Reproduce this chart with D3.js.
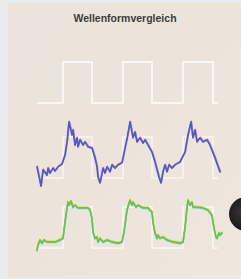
<!DOCTYPE html>
<html><head><meta charset="utf-8">
<script src="https://cdn.jsdelivr.net/npm/d3@7"></script>
<style>html,body{margin:0;padding:0;background:#e9ebec;overflow:hidden}</style>
</head><body>
<script>
// ---- data ----
const title = "Wellenformvergleich";
// reference square wave: [time, level]
const squareT = [0, 26, 26, 55, 55, 86, 86, 115, 115, 146, 146, 176, 176, 181];
const squareV = [0, 0, 1, 1, 0, 0, 1, 1, 0, 0, 1, 1, 0, 0];
// blue (distorted) output
const blueT = [0,4,6,10,11,13,16,18,21,25,28,30,32,35,36,38,40,41,43,46,48,51,55,58,60,61,63,65,66,68,70,73,75,78,81,85,88,90,93,96,98,100,103,106,108,111,115,118,120,122,124,126,128,130,132,135,138,143,148,151,154,156,158,160,163,166,170,173,178,183];
const blueV = [0.27,-0.20,0.20,0.07,0.24,0.12,0.24,0.17,0.27,0.34,0.56,0.88,1.37,1.05,1.17,0.80,0.98,0.76,0.93,0.80,0.88,0.76,0.73,0.49,0.27,0.02,-0.12,0.12,0.24,0.12,0.27,0.15,0.32,0.24,0.32,0.37,0.73,0.95,1.37,0.98,1.12,0.88,0.98,0.85,0.93,0.80,0.63,0.39,0.20,0.02,-0.12,0.15,0.32,0.15,0.32,0.24,0.32,0.39,0.63,1.05,1.37,0.98,1.17,0.88,0.98,0.88,0.93,0.80,0.49,0.15];
// green (improved) output
const greenT = [0,1,3,5,7,10,13,18,23,26,28,30,31,32,34,36,38,41,46,51,53,55,56,58,60,61,63,66,70,75,81,85,87,90,93,95,96,99,101,106,111,115,116,118,120,121,123,126,130,136,143,146,148,150,151,153,155,156,160,166,171,175,177,179,180,182,183,185];
const greenV = [-0.05,0.07,0.20,0.12,0.20,0.15,0.15,0.15,0.20,0.24,0.63,0.98,1.12,1.05,1.15,1.00,1.05,0.98,0.98,0.98,0.93,0.73,0.39,0.24,0.27,0.15,0.24,0.15,0.20,0.15,0.12,0.15,0.39,0.93,1.17,1.05,1.12,1.00,1.05,0.98,0.98,0.88,0.63,0.37,0.24,0.32,0.24,0.27,0.20,0.15,0.12,0.15,0.49,0.98,1.17,1.05,1.12,1.00,1.00,0.98,0.93,0.80,0.49,0.27,0.24,0.37,0.32,0.37];

// ---- drawing ----
const W = 241, H = 279;
const svg = d3.select("body").append("svg").attr("width", W).attr("height", H);

const defs = svg.append("defs");
const bg = defs.append("linearGradient").attr("id","bg").attr("x1",0).attr("y1",0).attr("x2",1).attr("y2",1);
bg.append("stop").attr("offset","0%").attr("stop-color","#ebe4dc");
bg.append("stop").attr("offset","50%").attr("stop-color","#ece4da");
bg.append("stop").attr("offset","100%").attr("stop-color","#eee7de");
const cg = defs.append("radialGradient").attr("id","dot").attr("cx","40%").attr("cy","45%").attr("r","60%");
cg.append("stop").attr("offset","0%").attr("stop-color","#3a3537");
cg.append("stop").attr("offset","100%").attr("stop-color","#151213");
defs.append("filter").attr("id","soft").attr("x","-5%").attr("y","-5%").attr("width","110%").attr("height","110%")
  .append("feGaussianBlur").attr("stdDeviation",0.45);

svg.append("rect").attr("x",0).attr("y",0).attr("width",W).attr("height",H).attr("fill","#e8ebec");
svg.append("rect").attr("x",8).attr("y",3).attr("width",W-8).attr("height",274).attr("fill","url(#bg)");

svg.append("text").attr("x",125).attr("y",22).attr("text-anchor","middle")
  .attr("font-family","'Liberation Sans', Arial, sans-serif").attr("font-weight","bold")
  .attr("font-size","10.5px").attr("fill","#3d3b3b").text(title);

const x = d3.scaleLinear().domain([0, 185]).range([37, 222]);
const unit = 41;
const panels = [103, 178, 248]; // baseline (level 0) of each panel
const sqOpacity = [0.85, 0.55, 0.6];
const yFor = base => d3.scaleLinear().domain([0, 1]).range([base, base - unit]);

const g = svg.append("g").attr("filter","url(#soft)");

panels.forEach((base, k) => {
  const y = yFor(base);
  const ln = d3.line().x(d => x(d[0])).y(d => y(d[1]));
  g.append("path").attr("d", ln(squareT.map((t, i) => [t, squareV[i]]))).attr("fill","none")
    .attr("stroke","#fdfcfa").attr("stroke-width",2).attr("stroke-opacity",sqOpacity[k])
    .attr("stroke-linejoin","round");
});

function wave(T, V, base, colors) {
  const y = yFor(base);
  const pts = T.map((t, i) => [t, V[i]]);
  colors.forEach(c => {
    const ln = d3.line().x(d => x(d[0]) + c.dx).y(d => y(d[1]) + c.dy);
    g.append("path").attr("d", ln(pts)).attr("fill","none")
      .attr("stroke", c.col).attr("stroke-width", c.w).attr("stroke-opacity", c.op)
      .attr("stroke-linejoin","round").attr("stroke-linecap","round");
  });
}
wave(blueT, blueV, panels[1], [
  {dx:0.4, dy:-0.6, col:"#b06ab8", w:1.7, op:0.6},
  {dx:0, dy:0, col:"#5659c0", w:1.7, op:1}
]);
wave(greenT, greenV, panels[2], [
  {dx:0, dy:-0.7, col:"#e2d84a", w:1.6, op:0.9},
  {dx:0, dy:0.7, col:"#4cc0b0", w:1.6, op:0.8},
  {dx:0, dy:0, col:"#6cc14e", w:1.5, op:1}
]);

svg.append("circle").attr("cx",246).attr("cy",214).attr("r",17).attr("fill","url(#dot)").attr("filter","url(#soft)");
</script>
</body></html>
